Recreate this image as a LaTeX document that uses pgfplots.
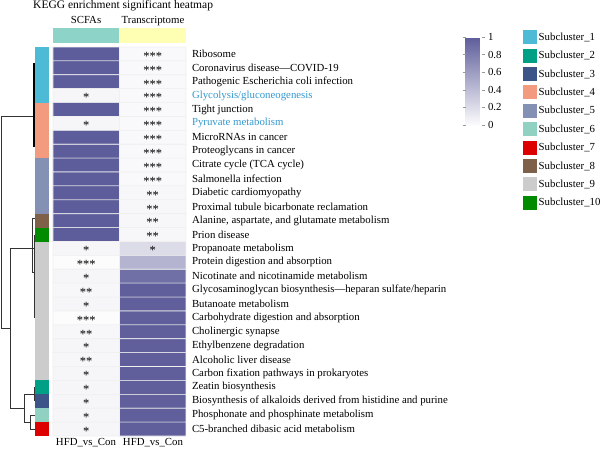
\documentclass[border=0pt]{standalone}
\usepackage{pgfplots}
\pgfplotsset{compat=1.18}
\usepackage{fontspec}
\setmainfont{Liberation Serif}
\usetikzlibrary{calc}
\definecolor{c1}{HTML}{4DBBD5}
\definecolor{c2}{HTML}{00A087}
\definecolor{c3}{HTML}{3C5488}
\definecolor{c4}{HTML}{F39B7F}
\definecolor{c5}{HTML}{8491B4}
\definecolor{c6}{HTML}{91D1C2}
\definecolor{c7}{HTML}{DC0000}
\definecolor{c8}{HTML}{7E6148}
\definecolor{c9}{HTML}{CCCCCC}
\definecolor{c10}{HTML}{008B00}
\definecolor{mint}{HTML}{8DD3C7}
\definecolor{lyellow}{HTML}{FFFFB3}
\definecolor{lblue}{RGB}{52,152,206}
\newcommand{\lf}{\fontsize{10.8}{12}\selectfont}
\begin{document}
\begin{tikzpicture}
\useasboundingbox (0pt,0pt) rectangle (600pt,448pt);
\begin{axis}[
  at={(53pt,12pt)}, anchor=south west,
  scale only axis, width=133pt, height=389pt,
  xmin=-0.5, xmax=1.5, ymin=0.5, ymax=28.5, y dir=reverse,
  enlargelimits=false, clip=false,
  axis line style={draw=none},
  xtick=\empty,
  ytick={1,...,28},
  yticklabels={{Ribosome},{Coronavirus disease—COVID-19},{Pathogenic Escherichia coli infection},
    {\color{lblue}Glycolysis/gluconeogenesis},{Tight junction},{\color{lblue}Pyruvate metabolism},
    {MicroRNAs in cancer},{Proteoglycans in cancer},{Citrate cycle (TCA cycle)},{Salmonella infection},
    {Diabetic cardiomyopathy},{Proximal tubule bicarbonate reclamation},
    {Alanine, aspartate, and glutamate metabolism},{Prion disease},{Propanoate metabolism},
    {Protein digestion and absorption},{Nicotinate and nicotinamide metabolism},
    {Glycosaminoglycan biosynthesis—heparan sulfate/heparin},{Butanoate metabolism},
    {Carbohydrate digestion and absorption},{Cholinergic synapse},{Ethylbenzene degradation},
    {Alcoholic liver disease},{Carbon fixation pathways in prokaryotes},{Zeatin biosynthesis},
    {Biosynthesis of alkaloids derived from histidine and purine},
    {Phosphonate and phosphinate metabolism},{C5-branched dibasic acid metabolism}},
  yticklabel pos=right,
  major tick length=0pt, tick style={draw=none},
  yticklabel style={font=\lf, anchor=west, xshift=2.5pt},
  colormap={hm}{rgb255=(252,252,253) rgb255=(94,93,155)},
  point meta min=0, point meta max=1,
  colorbar,
  colorbar style={
    at={($(parent axis.north east)+(271pt,10pt)$)}, anchor=north west,
    scale only axis, width=16pt, height=88pt,
    ytick={0,0.2,0.4,0.6,0.8,1},
    yticklabel style={font=\lf, /pgf/number format/assume math mode=true},
    axis line style={draw=none},
    major tick length=3pt, tick align=outside,
    tick style={draw=gray!80, line width=0.5pt},
  },
  legend style={at={(axis description cs:3.534,1.0437)}, anchor=north west,
    draw=none, fill=none, inner sep=0pt, row sep=4.4pt, font=\lf,
    nodes={inner xsep=1.5pt, inner ysep=0pt}},
  legend cell align=left,
  legend image code/.code={\fill[#1, draw=none] (0pt,-7pt) rectangle (14pt,7pt);},
]
% heatmap
\addplot[matrix plot*, mesh/cols=2, point meta=explicit, draw=gray!12, line width=0.6pt, forget plot]
  table[meta=c, row sep=\\] {
x y c\\
0 1 1\\ 1 1 0.02\\
0 2 1\\ 1 2 0.02\\
0 3 1\\ 1 3 0.02\\
0 4 0.04\\ 1 4 0.02\\
0 5 1\\ 1 5 0.02\\
0 6 0.04\\ 1 6 0.02\\
0 7 1\\ 1 7 0.02\\
0 8 1\\ 1 8 0.02\\
0 9 1\\ 1 9 0.02\\
0 10 1\\ 1 10 0.02\\
0 11 1\\ 1 11 0.03\\
0 12 1\\ 1 12 0.03\\
0 13 1\\ 1 13 0.03\\
0 14 1\\ 1 14 0.03\\
0 15 0.04\\ 1 15 0.2\\
0 16 0.0\\ 1 16 0.45\\
0 17 0.04\\ 1 17 0.88\\
0 18 0.03\\ 1 18 0.98\\
0 19 0.04\\ 1 19 0.98\\
0 20 0.0\\ 1 20 0.98\\
0 21 0.03\\ 1 21 0.98\\
0 22 0.04\\ 1 22 0.98\\
0 23 0.03\\ 1 23 0.98\\
0 24 0.04\\ 1 24 0.98\\
0 25 0.04\\ 1 25 0.98\\
0 26 0.04\\ 1 26 0.98\\
0 27 0.04\\ 1 27 0.98\\
0 28 0.04\\ 1 28 0.98\\
};
% significance stars
\addplot[only marks, mark=none, forget plot, nodes near coords, point meta=explicit symbolic,
  nodes near coords style={anchor=center, font=\fontsize{12.5}{13}\selectfont, yshift=-2.2pt, inner sep=0pt}]
  table[meta=s, row sep=\\] {
x y s\\
1 1 ***\\ 1 2 ***\\ 1 3 ***\\ 0 4 *\\ 1 4 ***\\ 1 5 ***\\ 0 6 *\\ 1 6 ***\\
1 7 ***\\ 1 8 ***\\ 1 9 ***\\ 1 10 ***\\ 1 11 **\\ 1 12 **\\ 1 13 **\\ 1 14 **\\
0 15 *\\ 1 15 *\\ 0 16 ***\\ 0 17 *\\ 0 18 **\\ 0 19 *\\ 0 20 ***\\ 0 21 **\\
0 22 *\\ 0 23 **\\ 0 24 *\\ 0 25 *\\ 0 26 *\\ 0 27 *\\ 0 28 *\\
};
% column annotation
\addplot[fill=mint, draw=none, forget plot] coordinates {(-0.5,-0.868) (0.5,-0.868) (0.5,0.212) (-0.5,0.212)};
\addplot[fill=lyellow, draw=none, forget plot] coordinates {(0.5,-0.868) (1.5,-0.868) (1.5,0.212) (0.5,0.212)};
% dendrogram
\addplot[draw=black!80, line width=0.8pt, forget plot] coordinates {(-0.785,5.467) (-1.282,5.467) (-1.282,20.73) (-1.147,20.73)};
\addplot[draw=black!80, line width=0.8pt, forget plot] coordinates {(-0.785,14.968) (-1.147,14.968) (-1.147,26.5) (-0.936,26.5)};
\addplot[draw=black!80, line width=0.8pt, forget plot] coordinates {(-0.785,25.5) (-0.936,25.5) (-0.936,27.5) (-0.846,27.5)};
\addplot[draw=black!80, line width=0.8pt, forget plot] coordinates {(-0.771,27) (-0.846,27) (-0.846,28) (-0.771,28)};
\addplot[draw=black!80, line width=0.8pt, forget plot] coordinates {(-0.785,25) (-0.785,26)};
\addplot[draw=black, line width=1.4pt, forget plot] coordinates {(-0.785,1.652) (-0.785,7.698)};
\addplot[draw=black!80, line width=0.8pt, forget plot] coordinates {(-0.771,12.808) (-0.816,12.808) (-0.816,16.695) (-0.771,16.695)};
\addplot[draw=black!80, line width=0.8pt, forget plot] coordinates {(-0.785,14.032) (-0.785,20.006)};
% cluster bar
\addplot[fill=c1, draw=none, forget plot] coordinates {(-0.771,0.5) (-0.56,0.5) (-0.56,4.5) (-0.771,4.5)};
\addplot[fill=c4, draw=none, forget plot] coordinates {(-0.771,4.5) (-0.56,4.5) (-0.56,8.5) (-0.771,8.5)};
\addplot[fill=c5, draw=none, forget plot] coordinates {(-0.771,8.5) (-0.56,8.5) (-0.56,12.5) (-0.771,12.5)};
\addplot[fill=c8, draw=none, forget plot] coordinates {(-0.771,12.5) (-0.56,12.5) (-0.56,13.5) (-0.771,13.5)};
\addplot[fill=c10, draw=none, forget plot] coordinates {(-0.771,13.5) (-0.56,13.5) (-0.56,14.5) (-0.771,14.5)};
\addplot[fill=c9, draw=none, forget plot] coordinates {(-0.771,14.5) (-0.56,14.5) (-0.56,24.5) (-0.771,24.5)};
\addplot[fill=c2, draw=none, forget plot] coordinates {(-0.771,24.5) (-0.56,24.5) (-0.56,25.5) (-0.771,25.5)};
\addplot[fill=c3, draw=none, forget plot] coordinates {(-0.771,25.5) (-0.56,25.5) (-0.56,26.5) (-0.771,26.5)};
\addplot[fill=c6, draw=none, forget plot] coordinates {(-0.771,26.5) (-0.56,26.5) (-0.56,27.5) (-0.771,27.5)};
\addplot[fill=c7, draw=none, forget plot] coordinates {(-0.771,27.5) (-0.56,27.5) (-0.56,28.5) (-0.771,28.5)};
% legend
\addlegendimage{fill=c1}\addlegendentry{Subcluster\_1}
\addlegendimage{fill=c2}\addlegendentry{Subcluster\_2}
\addlegendimage{fill=c3}\addlegendentry{Subcluster\_3}
\addlegendimage{fill=c4}\addlegendentry{Subcluster\_4}
\addlegendimage{fill=c5}\addlegendentry{Subcluster\_5}
\addlegendimage{fill=c6}\addlegendentry{Subcluster\_6}
\addlegendimage{fill=c7}\addlegendentry{Subcluster\_7}
\addlegendimage{fill=c8}\addlegendentry{Subcluster\_8}
\addlegendimage{fill=c9}\addlegendentry{Subcluster\_9}
\addlegendimage{fill=c10}\addlegendentry{Subcluster\_10}
\end{axis}
\node[anchor=base west, font=\fontsize{11.5}{13}\selectfont, inner sep=0pt] at (33pt,439pt) {KEGG enrichment significant heatmap};
\node[anchor=base, font=\lf, inner sep=0pt] at (86pt,424pt) {SCFAs};
\node[anchor=base, font=\lf, inner sep=0pt] at (153pt,424pt) {Transcriptome};
\node[anchor=base, font=\lf, inner sep=0pt] at (86pt,2.6pt) {HFD\_vs\_Con};
\node[anchor=base, font=\lf, inner sep=0pt] at (153pt,2.6pt) {HFD\_vs\_Con};
\end{tikzpicture}
\end{document}
